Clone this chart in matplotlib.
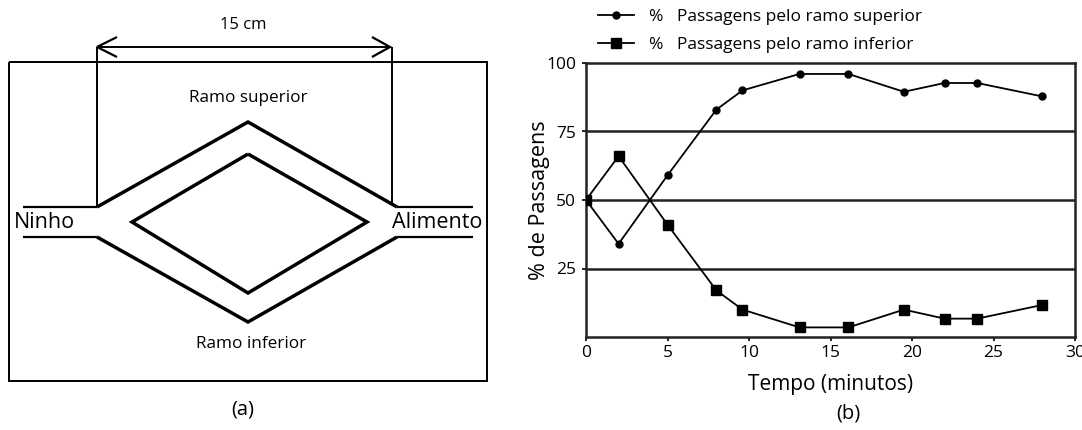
import matplotlib.pyplot as plt
from matplotlib.lines import Line2D

plt.rcParams['font.family'] = ['Open Sans', 'DejaVu Sans']

# tempo de observação e percentagem de passagens em cada ramo
MINUTOS = [0, 2, 5, 8, 9.6, 13.1, 16.1, 19.5, 22, 24, 28]
SUPERIOR = [50, 34, 59, 83, 90, 96, 96, 89.5, 92.7, 92.7, 87.8]
INFERIOR = [50, 66, 41, 17, 10, 3.5, 3.5, 10, 6.7, 6.7, 11.7]
LABELS = [
    "%   Passagens pelo ramo superior",
    "%   Passagens pelo ramo inferior",
]
XTICKS = [0, 5, 10, 15, 20, 25, 30]
YTICKS = [25, 50, 75, 100]

# esquema da ponte (a), em pixels da figura
CAIXA = [(9, 62), (487, 62), (487, 381), (9, 381), (9, 62)]
RAMO_EXT_SUP = [(97, 207), (248, 122), (397, 207)]
RAMO_EXT_INF = [(97, 237), (248, 322), (397, 237)]
RAMO_INT = [(248, 154), (367, 222), (248, 293), (132, 222), (248, 154)]
CANAIS = [
    [(23, 207), (97, 207)], [(23, 237), (97, 237)],
    [(397, 207), (473, 207)], [(397, 237), (473, 237)],
]
COTAS = [[(97, 47), (97, 207)], [(392, 47), (392, 205)], [(97, 47), (390, 47)]]
SETAS = [
    [(117, 37), (97, 47), (117, 57)],
    [(372, 37), (390, 47), (372, 57)],
]


def poly(ax, pts, lw):
    xs, ys = zip(*pts)
    ax.plot(xs, ys, color="black", lw=lw, solid_joinstyle="miter",
            solid_capstyle="butt")


fig = plt.figure(figsize=(10.82, 4.30), dpi=100)

# painel (a): desenho em coordenadas de pixel
ax0 = fig.add_axes([0, 0, 1, 1])
ax0.set_xlim(0, 1082)
ax0.set_ylim(430, 0)
ax0.axis("off")

poly(ax0, CAIXA, 1.4)
poly(ax0, RAMO_EXT_SUP, 2.5)
poly(ax0, RAMO_EXT_INF, 2.5)
poly(ax0, RAMO_INT, 2.5)
for seg in CANAIS:
    poly(ax0, seg, 1.6)
for seg in COTAS:
    poly(ax0, seg, 1.4)
for seg in SETAS:
    poly(ax0, seg, 1.6)

ax0.text(243, 25, "15 cm", ha="center", va="center", fontsize=12)
ax0.text(248, 98, "Ramo superior", ha="center", va="center", fontsize=12.3)
ax0.text(251, 344, "Ramo inferior", ha="center", va="center", fontsize=12.3)
ax0.text(14, 222, "Ninho", ha="left", va="center", fontsize=15.5)
ax0.text(482, 222, "Alimento", ha="right", va="center", fontsize=15.5)
ax0.text(243, 410, "(a)", ha="center", va="center", fontsize=14.5)
ax0.text(848, 414, "(b)", ha="center", va="center", fontsize=14.5)

# painel (b): gráfico
ax = fig.add_axes([586 / 1082, 1 - 337 / 430, 489 / 1082, 274 / 430])
ax.plot(MINUTOS, SUPERIOR, "-o", color="black", lw=1.3, ms=5, zorder=3)
ax.plot(MINUTOS, INFERIOR, "-s", color="black", lw=1.3, ms=7, zorder=3)

ax.set_xlim(0, 30)
ax.set_ylim(0, 100)
ax.set_xticks(XTICKS)
ax.set_yticks(YTICKS)
for v in YTICKS[:-1]:
    ax.axhline(v, color="#222222", lw=1.8, zorder=1)
for s in ax.spines.values():
    s.set_linewidth(1.8)
    s.set_color("#222222")
ax.tick_params(direction="out", length=3, width=1.2, labelsize=12.5, pad=4)
ax.tick_params(axis="x", pad=3)

ax.set_xlabel("Tempo (minutos)", fontsize=15, labelpad=9)
ax.set_ylabel("% de Passagens", fontsize=15.5, labelpad=-3)

handles = [
    Line2D([], [], color="black", lw=1.3, marker="o", ms=5),
    Line2D([], [], color="black", lw=1.3, marker="s", ms=7),
]
fig.legend(handles, LABELS, loc="upper left",
           bbox_to_anchor=(598 / 1082, 1 - 9 / 430),
           frameon=False, fontsize=12.5, borderpad=0, borderaxespad=0,
           handlelength=2.1, handletextpad=0.85, labelspacing=0.68)

fig.savefig("out.png", dpi=100)
